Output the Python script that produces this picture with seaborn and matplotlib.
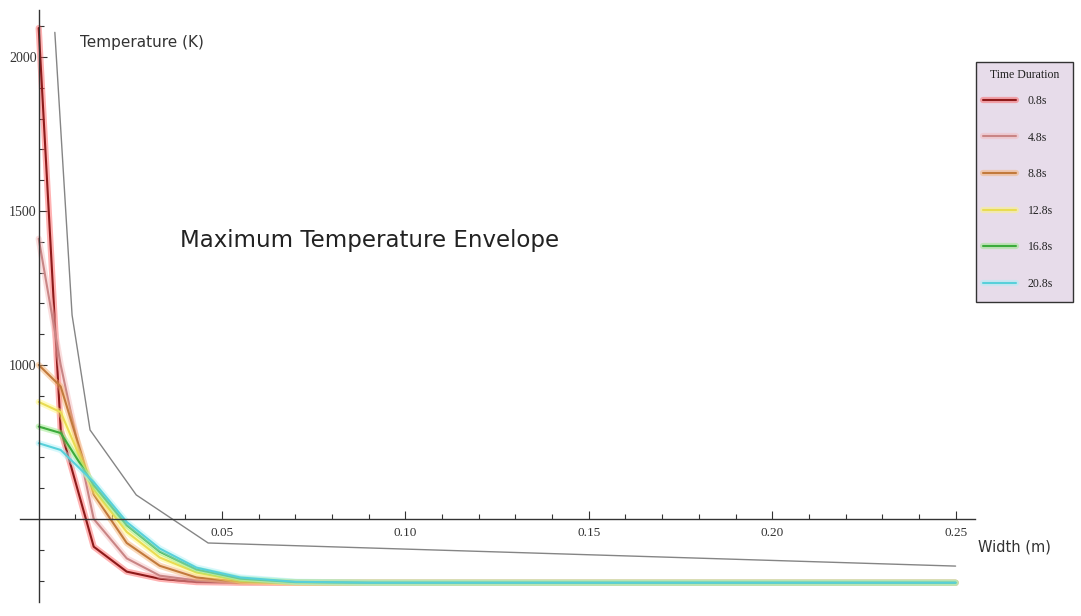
import matplotlib
matplotlib.use("Agg")
import matplotlib.pyplot as plt
import matplotlib.patheffects as pe
from matplotlib.patches import Rectangle
from matplotlib.ticker import FixedLocator
import pandas as pd
import seaborn as sns

# Sampled positions across the wall (m)
width_grid = [0, 0.006, 0.015, 0.024, 0.033, 0.043, 0.055, 0.07, 0.09, 0.25]

# Temperature profiles (K) for each heating duration
t_0_8 = [2094, 790, 410, 329, 306, 295, 293, 293, 293, 293]
t_4_8 = [1410, 1000, 500, 372, 316, 300, 294, 293, 293, 293]
t_8_8 = [1000, 930, 580, 422, 348, 310, 296, 294, 293, 293]
t_12_8 = [880, 847, 595, 458, 375, 326, 300, 294, 293, 293]
t_16_8 = [800, 779, 610, 480, 394, 336, 306, 295, 293, 293]
t_20_8 = [746, 724, 620, 490, 404, 342, 310, 296, 293, 293]

durations = ["0.8s", "4.8s", "8.8s", "12.8s", "16.8s", "20.8s"]
profiles = [t_0_8, t_4_8, t_8_8, t_12_8, t_16_8, t_20_8]

# Envelope of the maximum temperature reached
envelope_x = [0.0044, 0.0091, 0.014, 0.0266, 0.0462, 0.25]
envelope_t = [2080, 1162, 789, 578, 422, 347]

core_colors = ["#8e1a1a", "#c98585", "#c27a3c", "#e9dc52", "#3cab3c", "#58d0da"]
glow_colors = ["#ff5656", "#f6b6b6", "#f6ad68", "#fff870", "#8de879", "#a6f1f8"]

rows = []
for d, temps in zip(durations, profiles):
    for w, t in zip(width_grid, temps):
        rows.append({"width": w, "temp": t, "duration": d})
df = pd.DataFrame(rows)
env_df = pd.DataFrame({"width": envelope_x, "temp": envelope_t})

sns.set_theme(style="white")
plt.rcParams["font.family"] = ["DejaVu Sans"]

W, H = 1081, 616
fig = plt.figure(figsize=(W / 100, H / 100), dpi=100)
fig.patch.set_facecolor("white")
ax = fig.add_axes([20 / W, 14 / H, 955 / W, 592 / H])
ax.set_facecolor("white")

sns.lineplot(data=df, x="width", y="temp", hue="duration", hue_order=durations,
             palette=dict(zip(durations, core_colors)), estimator=None, sort=False,
             linewidth=1.5, legend=False, ax=ax)
profile_lines = list(ax.lines)
for line, glow in zip(profile_lines, glow_colors):
    line.set_path_effects([pe.Stroke(linewidth=4.5, foreground=glow, alpha=0.45),
                           pe.Normal()])

sns.lineplot(data=env_df, x="width", y="temp", color="#858585", linewidth=1.0,
             estimator=None, sort=False, legend=False, ax=ax)

ax.set_xlim(-0.0051, 0.2553)
ax.set_ylim(230.4, 2152.6)

# Axes cross at (0, 500)
for side in ("top", "right"):
    ax.spines[side].set_visible(False)
ax.spines["left"].set_position(("data", 0))
ax.spines["bottom"].set_position(("data", 500))
for side in ("left", "bottom"):
    ax.spines[side].set_color("#333333")
    ax.spines[side].set_linewidth(1.0)

ax.xaxis.set_major_locator(FixedLocator([0.05, 0.10, 0.15, 0.20, 0.25]))
ax.xaxis.set_minor_locator(FixedLocator([i / 100 for i in range(1, 26) if i % 5]))
ax.yaxis.set_major_locator(FixedLocator([1000, 1500, 2000]))
ax.yaxis.set_minor_locator(FixedLocator([v for v in range(300, 2200, 100) if v % 500]))
ax.set_xticklabels(["0.05", "0.10", "0.15", "0.20", "0.25"])
ax.set_yticklabels(["1000", "1500", "2000"])
ax.tick_params(which="both", direction="in", color="#333333", width=0.8,
               bottom=True, left=True)
ax.tick_params(which="major", length=6, labelcolor="#333333")
ax.tick_params(which="minor", length=3.5)
ax.tick_params(axis="x", which="major", labelsize=9.5, pad=6)
ax.tick_params(axis="y", which="major", labelsize=10, pad=1.5)
for lab in ax.get_xticklabels() + ax.get_yticklabels():
    lab.set_family("Liberation Serif")
ax.set_xlabel("")
ax.set_ylabel("")

fig.text(80 / W, 1 - 43 / H, "Temperature (K)", fontsize=11, color="#333333",
         ha="left", va="center")
fig.text(978 / W, 1 - 547 / H, "Width (m)", fontsize=10.5, color="#333333",
         ha="left", va="center")
fig.text(180 / W, 1 - 241 / H, "Maximum Temperature Envelope", fontsize=16.5,
         color="#222222", ha="left", va="center")

# Legend panel: framed box with a title, entries drawn on top of it
panel = Rectangle((976 / W, 1 - 302 / H), 97 / W, 240 / H, transform=fig.transFigure,
                  facecolor="#e7dcea", edgecolor="#333333", linewidth=1.0,
                  clip_on=False, zorder=4)
ax.add_artist(panel)
ax.text(1024.5 / W, 1 - 75 / H, "Time Duration", transform=fig.transFigure,
        family="Liberation Serif", fontsize=8.5, color="#222222",
        ha="center", va="center", clip_on=False, zorder=6)
leg = ax.legend(profile_lines, durations, loc="upper left",
                bbox_to_anchor=(983 / W, 1 - 95 / H), bbox_transform=fig.transFigure,
                borderaxespad=0, borderpad=0, frameon=False,
                handlelength=2.8, handletextpad=1.0, labelspacing=2.08,
                prop={"family": "Liberation Serif", "size": 8.5})
leg.set_zorder(7)
for txt in leg.get_texts():
    txt.set_color("#222222")

fig.savefig("out.png", dpi=100)
